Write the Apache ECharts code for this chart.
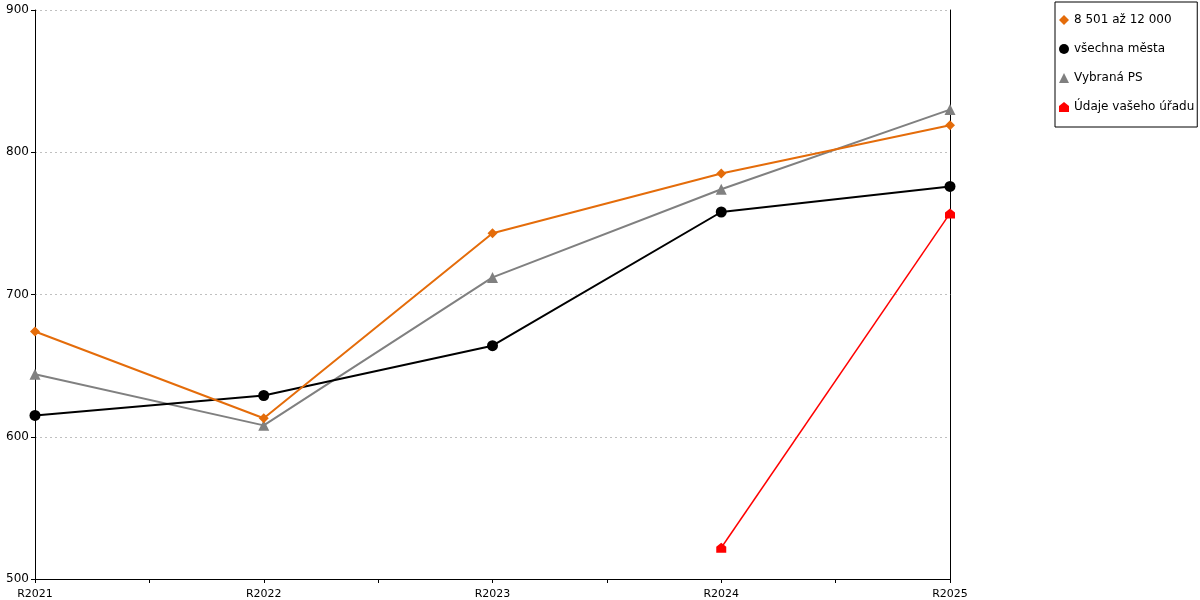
<!DOCTYPE html>
<html><head><meta charset="utf-8">
<script src="https://cdn.jsdelivr.net/npm/echarts@6/dist/echarts.min.js"></script>
<style>html,body{margin:0;padding:0;background:#fff}#c{width:1200px;height:600px}</style>
</head><body><div id="c"></div>
<script>
const categories = ['R2021','R2022','R2023','R2024','R2025'];
const seriesNames = ['8 501 až 12 000','všechna města','Vybraná PS','Údaje vašeho úřadu'];
const orangeValues = [674, 613, 743, 785, 819];
const blackValues = [615, 629, 664, 758, 776];
const greyValues = [644, 608, 712, 774, 830];
const redValues = [null, null, null, 522, 757];
const yTicks = [500, 600, 700, 800, 900];

const house = 'path://M0,4 L5,0 L10,4 L10,10 L0,10 Z';
function pts(arr){ return arr.map((v,i)=> v==null ? null : [i, v]).filter(p=>p); }
const font = 'DejaVu Sans';
const chart = echarts.init(document.getElementById('c'), null, {renderer:'canvas'});
const mk = (name, data, color, symbol, size, width) => ({
  name, type:'line', data: pts(data), symbol, symbolSize:size, showSymbol:true,
  lineStyle:{color, width}, itemStyle:{color}, animation:false, z: 3
});
chart.setOption({
  animation:false,
  textStyle:{fontFamily:font},
  grid:{left:35, right:250, top:10, bottom:21},
  legend:{
    orient:'vertical', left:1055, top:2,
    padding:[12,3,14,4], itemWidth:10, itemHeight:10, itemGap:17,
    borderColor:'#000', borderWidth:1, backgroundColor:'#fff',
    textStyle:{fontFamily:font, fontSize:12, color:'#000'},
    data:[
      {name:seriesNames[0], icon:'diamond'},
      {name:seriesNames[1], icon:'circle'},
      {name:seriesNames[2], icon:'triangle'},
      {name:seriesNames[3], icon:house}
    ]
  },
  xAxis:{
    type:'value', min:0, max:categories.length-1, interval:0.5,
    axisLine:{show:true, lineStyle:{color:'#000', width:1}},
    axisTick:{show:true, length:4, lineStyle:{color:'#000'}},
    splitLine:{show:false},
    axisLabel:{
      fontFamily:font, fontSize:11, color:'#000', margin:10,
      formatter:v => Number.isInteger(v) ? categories[v] : '',
      showMinLabel:true, showMaxLabel:true
    }
  },
  yAxis:[{
    type:'value', min:yTicks[0], max:yTicks[yTicks.length-1], interval:100,
    axisLine:{show:true, lineStyle:{color:'#000'}},
    axisTick:{show:true, length:4, lineStyle:{color:'#000'}},
    axisLabel:{fontFamily:font, fontSize:12, color:'#000', margin:6},
    splitLine:{show:true, lineStyle:{color:'#c0c0c0', type:[2,3], width:1}}
  },{
    type:'value', min:yTicks[0], max:yTicks[yTicks.length-1], position:'right',
    axisLine:{show:true, onZero:false, lineStyle:{color:'#000'}},
    axisTick:{show:false}, axisLabel:{show:false}, splitLine:{show:false}
  }],
  series:[
    mk(seriesNames[2], greyValues, '#808080', 'triangle', 11, 2),
    mk(seriesNames[1], blackValues, '#000000', 'circle', 11, 2),
    mk(seriesNames[0], orangeValues, '#E46C0A', 'diamond', 10, 2),
    mk(seriesNames[3], redValues, '#FF0000', house, 10, 1.5)
  ]
});
</script></body></html>
